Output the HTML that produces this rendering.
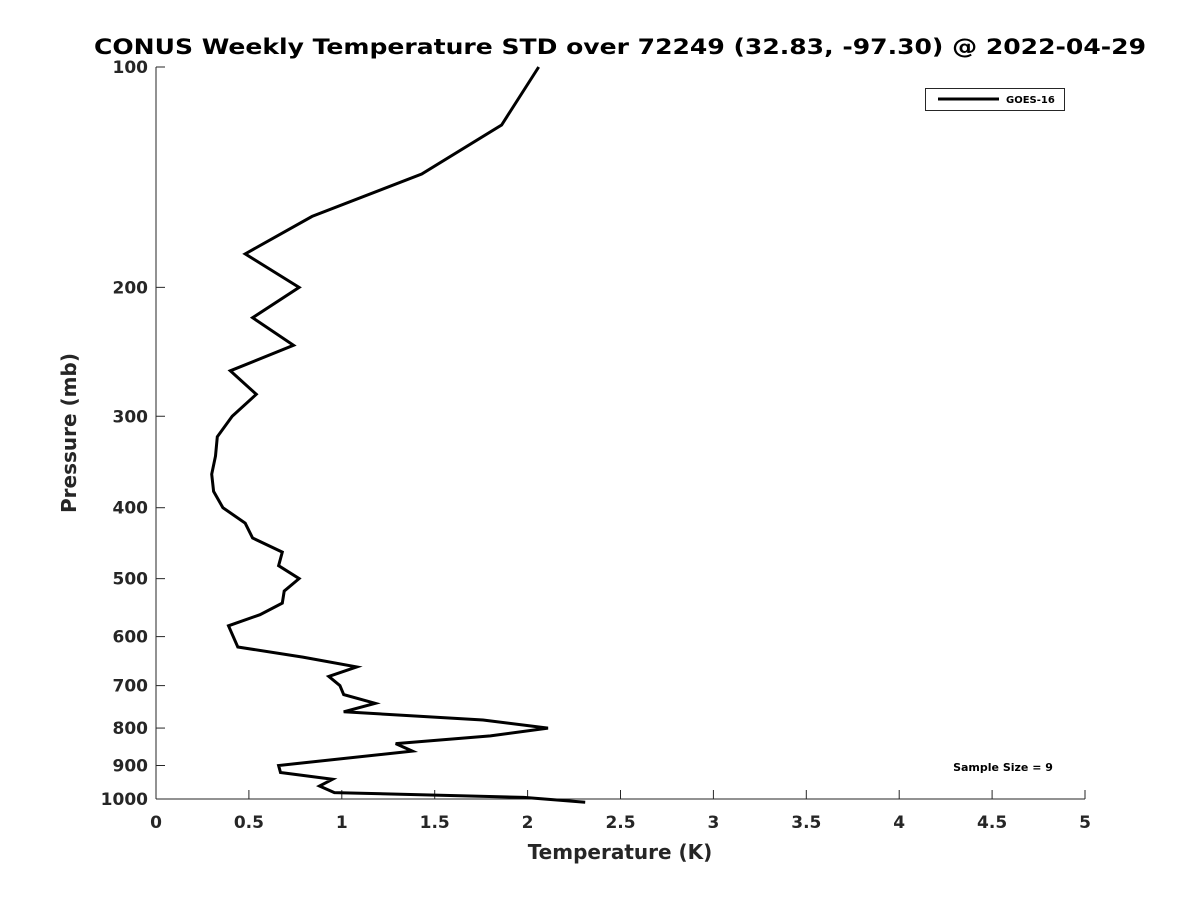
<!DOCTYPE html>
<html><head><meta charset="utf-8"><style>body{margin:0;background:#fff}svg{display:block}text{font-family:"DejaVu Sans","Liberation Sans",sans-serif;font-weight:bold}</style></head>
<body>
<svg id="chart" width="1200" height="900" xmlns="http://www.w3.org/2000/svg">
<rect width="1200" height="900" fill="#fff"/>
<text x="620" y="54" text-anchor="middle" font-size="21" fill="#000" textLength="1052" lengthAdjust="spacingAndGlyphs">CONUS Weekly Temperature STD over 72249 (32.83, -97.30) @ 2022-04-29</text>
<g id="axes"></g>
<polyline id="series" fill="none" stroke="#000" stroke-width="3" stroke-linejoin="miter"/>
<text x="620" y="859" text-anchor="middle" font-size="20" fill="#262626">Temperature (K)</text>
<text transform="translate(76,433) rotate(-90)" text-anchor="middle" font-size="20" fill="#262626">Pressure (mb)</text>
<g>
<rect x="925.5" y="88.5" width="139" height="22" fill="#fff" stroke="#262626" stroke-width="1"/>
<line x1="938" y1="99" x2="999" y2="99" stroke="#000" stroke-width="3"/>
<text x="1006" y="103" font-size="10" fill="#000">GOES-16</text>
</g>
<text x="1003" y="771" text-anchor="middle" font-size="11" fill="#000">Sample Size = 9</text>
</svg>
<script>
const pressures=[100,120,140,160,180,200,220,240,260,280,300,320,340,360,380,400,420,440,460,480,500,520,540,560,580,620,640,660,680,700,720,740,760,780,800,820,840,860,900,920,940,960,980,995,1010];
const temps=[2.06,1.86,1.43,0.84,0.48,0.77,0.52,0.74,0.40,0.54,0.41,0.33,0.32,0.30,0.31,0.36,0.48,0.52,0.68,0.66,0.77,0.69,0.68,0.56,0.39,0.44,0.79,1.08,0.93,0.99,1.01,1.18,1.01,1.76,2.11,1.80,1.29,1.38,0.66,0.67,0.95,0.88,0.96,1.98,2.31];
const xTicks=[0,0.5,1,1.5,2,2.5,3,3.5,4,4.5,5];
const xTickLabels=["0","0.5","1","1.5","2","2.5","3","3.5","4","4.5","5"];
const yTicks=[100,200,300,400,500,600,700,800,900,1000];
const X0=156,X1=1085,Y0=67,Y1=799;
const xs=v=>X0+(v-0)/5*(X1-X0);
const ys=p=>Y0+Math.log10(p/100)*(Y1-Y0);
const NS="http://www.w3.org/2000/svg";
const g=document.getElementById('axes');
function mk(t,a){const e=document.createElementNS(NS,t);for(const k in a)e.setAttribute(k,a[k]);g.appendChild(e);return e;}
const ya=mk('line',{x1:X0,y1:Y0,x2:X0,y2:Y1,stroke:'#262626','stroke-width':1});


const xa=mk('line',{x1:X0,y1:Y1,x2:X1,y2:Y1,stroke:'#262626','stroke-width':1});


xTicks.forEach((v,i)=>{
 const x=xs(v);
 mk('line',{x1:x,y1:Y1,x2:x,y2:Y1-9,stroke:'#262626','stroke-width':1});
 const t=mk('text',{x:x,y:Y1+29,'text-anchor':'middle','font-size':17,fill:'#262626'});
 t.textContent=xTickLabels[i];
 
 
});
yTicks.forEach(p=>{
 const y=ys(p);
 mk('line',{x1:X0,y1:y,x2:X0+9,y2:y,stroke:'#262626','stroke-width':1});
 const t=mk('text',{x:X0-8,y:y+6,'text-anchor':'end','font-size':17,fill:'#262626'});
 t.textContent=String(p);
 
 
});
document.getElementById('series').setAttribute('points',pressures.map((p,i)=>xs(temps[i]).toFixed(1)+','+ys(p).toFixed(1)).join(' '));
</script>
</body></html>
